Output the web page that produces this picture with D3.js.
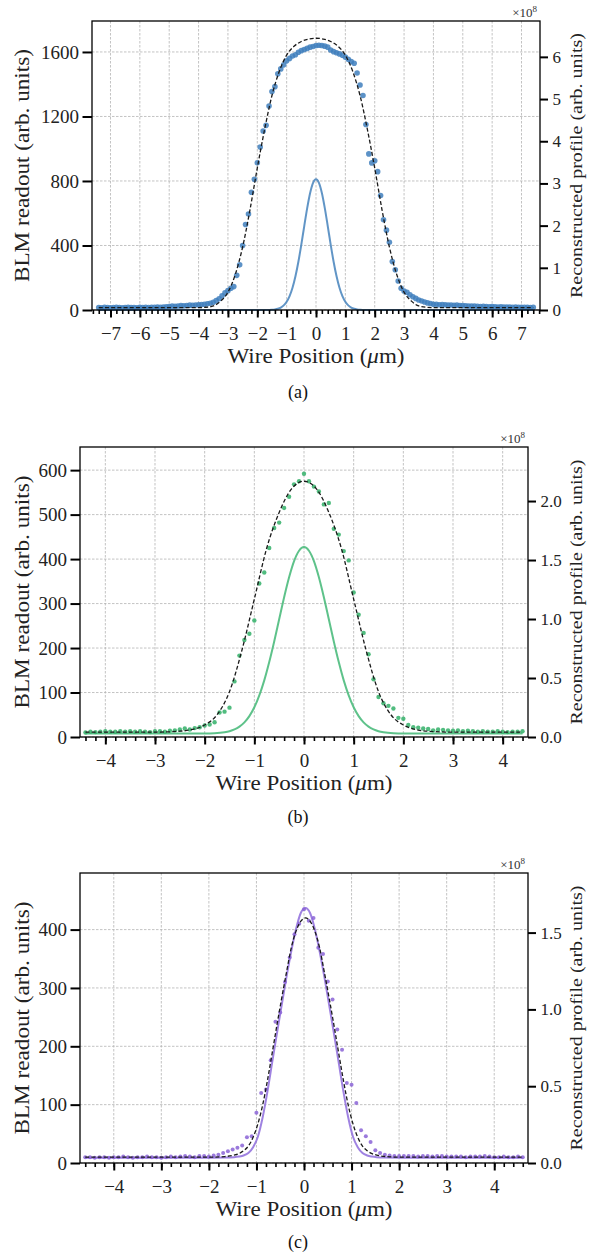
<!DOCTYPE html>
<html>
<head>
<meta charset="utf-8">
<script src="https://cdn.jsdelivr.net/npm/d3@7"></script>
<style>
  body { margin: 0; background: #fff; }
  svg { display: block; font-family: "Liberation Serif", "DejaVu Serif", serif; }
  .grid { stroke: #b4b4b4; stroke-width: 0.8; stroke-dasharray: 2.5 1.5; }
</style>
</head>
<body>
<svg id="fig" width="596" height="1256"></svg>
<script>
// ---- panel (a) ----
const dotsAStart = -7.4;
const dotsA = [
  15,14,16,15,14,15,16,15,14,15,16,15,15,14,16,15,16,15,17,16,18,17,19,20,22,
  24,23,25,27,26,28,30,29,31,33,
  34,36,38,42,48,58,70,88,106,120,
  135,145,215,280,400,530,595,730,810,913,
  1010,1110,1145,1265,1355,1385,1465,1495,1520,1545,
  1560,1575,1583,1598,1608,1615,1622,1630,1634,1640,
  1642,1640,1636,1630,1612,1602,1595,1588,1580,1568,
  1555,1540,1530,1470,1395,1330,1150,968,912,925,
  858,710,560,495,420,300,250,180,135,118,
  110,95,82,72,62,56,50,44,40,36,
  35,33,34,32,30,31,29,30,28,27,
  26,25,24,25,23,22,23,21,20,21,
  20,19,20,18,19,18,17,18,17,16,
  16,17,15,16
];
const fitAX = [-7.4, -4.0, -3.75, -3.5, -3.25, -3.0, -2.75, -2.5, -2.25, -2.0, -1.75, -1.5, -1.25, -1.0, -0.75, -0.5, -0.25, 0,
  0.25, 0.5, 0.75, 1.0, 1.25, 1.5, 1.75, 2.0, 2.25, 2.5, 2.75, 3.0, 3.25, 3.5, 3.75, 4.0, 7.4];
const fitAY = [15, 15, 17, 25, 55, 110, 220, 390, 620, 880, 1120, 1330, 1480, 1580, 1635, 1665, 1680, 1685,
  1680, 1665, 1635, 1580, 1480, 1330, 1120, 880, 620, 390, 220, 110, 55, 25, 17, 15, 15];
const profAX = [-7.4, -1.6, -1.5, -1.4, -1.3, -1.2, -1.1, -1.0, -0.9, -0.8, -0.7, -0.6, -0.5, -0.4, -0.3, -0.2, -0.1, 0,
  0.1, 0.2, 0.3, 0.4, 0.5, 0.6, 0.7, 0.8, 0.9, 1.0, 1.1, 1.2, 1.3, 1.4, 1.5, 1.6, 7.4];
const profAY = [0, 0.002, 0.006, 0.014, 0.029, 0.057, 0.109, 0.194, 0.329, 0.527, 0.798, 1.144, 1.551, 1.990, 2.416, 2.775, 3.015, 3.100,
  3.015, 2.775, 2.416, 1.990, 1.551, 1.144, 0.798, 0.527, 0.329, 0.194, 0.109, 0.057, 0.029, 0.014, 0.006, 0.002, 0];
const xTicksA = [-7, -6, -5, -4, -3, -2, -1, 0, 1, 2, 3, 4, 5, 6, 7];
const yLTicksA = [0, 400, 800, 1200, 1600];
const yRTicksA = [0, 1, 2, 3, 4, 5, 6];

// ---- panel (b) ----
const dotsBStart = -4.4;
const dotsB = [
  10,12,11,12,13,12,12,13,12,13,12,13,12,11,13,
  13,12,14,15,17,
  19,17,20,22,26,
  28,33,55,57,66,125,183,218,232,262,
  345,370,425,470,482,515,540,568,575,592,
  575,563,552,523,526,468,455,418,397,325,
  275,234,186,130,90,76,70,64,43,41,
  27,22,21,19,18,15,17,16,15,14,
  15,13,14,13,12,13,12,12,13,12,11,12,12,13
];
const fitBX = [-4.4, -3.0, -2.5, -2.25, -2.0, -1.75, -1.5, -1.25, -1.0, -0.75, -0.5, -0.25, 0,
  0.25, 0.5, 0.75, 1.0, 1.25, 1.5, 1.75, 2.0, 2.25, 2.5, 3.0, 4.4];
const fitBY = [11, 11, 13, 17, 27, 50, 102, 195, 310, 425, 505, 558, 575,
  558, 505, 425, 310, 195, 102, 50, 27, 17, 13, 11, 11];
const profBX = [-4.4, -2.0, -1.8, -1.6, -1.5, -1.4, -1.3, -1.2, -1.1, -1.0, -0.9, -0.8, -0.7, -0.6, -0.5, -0.4, -0.3, -0.2, -0.1, 0,
  0.1, 0.2, 0.3, 0.4, 0.5, 0.6, 0.7, 0.8, 0.9, 1.0, 1.1, 1.2, 1.3, 1.4, 1.5, 1.6, 1.8, 2.0, 4.4];
const profBY = [0.030, 0.030, 0.032, 0.040, 0.049, 0.064, 0.088, 0.124, 0.177, 0.252, 0.353, 0.480, 0.635, 0.810, 0.998, 1.185, 1.354, 1.491, 1.579, 1.610,
  1.579, 1.491, 1.354, 1.185, 0.998, 0.810, 0.635, 0.480, 0.353, 0.252, 0.177, 0.124, 0.088, 0.064, 0.049, 0.040, 0.032, 0.030, 0.030];
const xTicksB = [-4, -3, -2, -1, 0, 1, 2, 3, 4];
const yLTicksB = [0, 100, 200, 300, 400, 500, 600];
const yRTicksB = [0, 0.5, 1.0, 1.5, 2.0];

// ---- panel (c) ----
const dotsCStart = -4.6;
const dotsC = [
  10,10,9,10,10,9,10,10,11,10,9,10,10,11,10,10,9,10,11,10,11,12,11,10,12,12,
  11,13,14,17,20,23,26,30,44,46,
  86,120,126,176,242,258,310,352,392,410,
  435,415,420,369,358,311,280,229,194,137,
  134,103,56,46,36,22,17,14,13,12,12,
  12,12,12,11,12,12,11,12,12,11,11,11,11,10,11,11,11,12,11,10,10,11,10,10,11,10
];
const fitCX = [-4.6, -1.97, -1.67, -1.47, -1.37, -1.27, -1.17, -1.07, -0.97, -0.87, -0.77, -0.67, -0.57, -0.47, -0.37, -0.27, -0.17, -0.07, 0.03,
  0.13, 0.23, 0.33, 0.43, 0.53, 0.63, 0.73, 0.83, 0.93, 1.03, 1.13, 1.23, 1.33, 1.43, 1.53, 1.73, 2.03, 4.6];
const fitCY = [10, 10, 11, 13.5, 16, 21, 29, 44, 67, 99, 141, 188, 236, 282, 326, 368, 397, 414, 420,
  414, 397, 368, 326, 282, 236, 188, 141, 99, 67, 44, 29, 21, 16, 13.5, 11, 10, 10];
const profCX = fitCX;
const profCY = [0.034, 0.034, 0.035, 0.038, 0.042, 0.049, 0.065, 0.103, 0.171, 0.296, 0.463, 0.653, 0.843, 1.026, 1.208, 1.375, 1.520, 1.626, 1.660,
  1.626, 1.520, 1.375, 1.208, 1.026, 0.843, 0.653, 0.463, 0.296, 0.171, 0.103, 0.065, 0.049, 0.042, 0.038, 0.035, 0.034, 0.034];
const xTicksC = [-4, -3, -2, -1, 0, 1, 2, 3, 4];
const yLTicksC = [0, 100, 200, 300, 400];
const yRTicksC = [0, 0.5, 1.0, 1.5];

const captions = ["(a)", "(b)", "(c)"];

const serif = '"Liberation Serif", "DejaVu Serif", serif';
const svg = d3.select("#fig");

const panels = [
  { left: 92, right: 540, top: 21, bottom: 310, xDomain: [-7.63, 7.63], yL: [0, 1792], yR: [0, 6.85],
    dots: dotsA, dotStart: dotsAStart, fitX: fitAX, fitY: fitAY, profX: profAX, profY: profAY,
    xTicks: xTicksA, yLTicks: yLTicksA, yRTicks: yRTicksA, yRFormat: d3.format("d"),
    dotColor: "#3f7fbd", lineColor: "#5089c0", r: 2.8, capY: 398, caption: captions[0] },
  { left: 80, right: 528, top: 447, bottom: 737, xDomain: [-4.51, 4.51], yL: [0, 652], yR: [0, 2.458],
    dots: dotsB, dotStart: dotsBStart, fitX: fitBX, fitY: fitBY, profX: profBX, profY: profBY,
    xTicks: xTicksB, yLTicks: yLTicksB, yRTicks: yRTicksB, yRFormat: d3.format(".1f"),
    dotColor: "#32b068", lineColor: "#4dbb7d", r: 2.2, capY: 823, caption: captions[1] },
  { left: 80, right: 528, top: 873, bottom: 1163, xDomain: [-4.71, 4.71], yL: [0, 497], yR: [0, 1.888],
    dots: dotsC, dotStart: dotsCStart, fitX: fitCX, fitY: fitCY, profX: profCX, profY: profCY,
    xTicks: xTicksC, yLTicks: yLTicksC, yRTicks: yRTicksC, yRFormat: d3.format(".1f"),
    dotColor: "#8a63d6", lineColor: "#9574de", r: 2.0, capY: 1248, caption: captions[2] }
];

function styleAxis(sel, size, width) {
  sel.attr("font-family", serif).attr("font-size", size);
  sel.select(".domain").remove();
  sel.selectAll(".tick line").attr("stroke", "#000").attr("stroke-width", width);
  sel.selectAll(".tick text").attr("fill", "#222");
}

function drawPanel(p) {
  const g = svg.append("g");
  const x = d3.scaleLinear().domain(p.xDomain).range([p.left, p.right]);
  const yL = d3.scaleLinear().domain(p.yL).range([p.bottom, p.top]);
  const yR = d3.scaleLinear().domain(p.yR).range([p.bottom, p.top]);

  // grid
  g.append("g").selectAll("line").data(p.xTicks).join("line")
    .attr("class", "grid")
    .attr("x1", d => x(d)).attr("x2", d => x(d))
    .attr("y1", p.top).attr("y2", p.bottom);
  g.append("g").selectAll("line").data(p.yLTicks).join("line")
    .attr("class", "grid")
    .attr("x1", p.left).attr("x2", p.right)
    .attr("y1", d => yL(d)).attr("y2", d => yL(d));

  // reconstructed profile (right axis)
  const profLine = d3.line().x(d => x(d[0])).y(d => yR(d[1])).curve(d3.curveMonotoneX);
  g.append("path")
    .datum(d3.zip(p.profX, p.profY))
    .attr("d", profLine)
    .attr("fill", "none")
    .attr("stroke", p.lineColor)
    .attr("stroke-width", 2)
    .attr("stroke-opacity", 0.9);

  // BLM readout dots
  g.append("g").selectAll("circle").data(p.dots).join("circle")
    .attr("cx", (d, i) => x(p.dotStart + i * 0.1))
    .attr("cy", d => yL(d))
    .attr("r", p.r)
    .attr("fill", p.dotColor)
    .attr("fill-opacity", 0.85);

  // fit (dashed)
  const fitLine = d3.line().x(d => x(d[0])).y(d => yL(d[1])).curve(d3.curveMonotoneX);
  g.append("path")
    .datum(d3.zip(p.fitX, p.fitY))
    .attr("d", fitLine)
    .attr("fill", "none")
    .attr("stroke", "#1a1a1a")
    .attr("stroke-width", 1.3)
    .attr("stroke-dasharray", "4 2.2");

  // frame
  g.append("rect")
    .attr("x", p.left).attr("y", p.top)
    .attr("width", p.right - p.left).attr("height", p.bottom - p.top)
    .attr("fill", "none").attr("stroke", "#000").attr("stroke-width", 1.3);

  // x axis: minor then major
  const minor = d3.range(Math.ceil(p.xDomain[0] / 0.2), Math.floor(p.xDomain[1] / 0.2) + 1).map(i => i * 0.2);
  g.append("g")
    .attr("transform", `translate(0,${p.bottom})`)
    .call(d3.axisBottom(x).tickValues(minor).tickSize(4).tickFormat(""))
    .call(s => styleAxis(s, 19, 1.6));
  g.append("g")
    .attr("transform", `translate(0,${p.bottom})`)
    .call(d3.axisBottom(x).tickValues(p.xTicks).tickSize(7.5).tickPadding(9).tickFormat(d3.format("d")))
    .call(s => styleAxis(s, 19, 2));

  // left axis
  g.append("g")
    .attr("transform", `translate(${p.left},0)`)
    .call(d3.axisLeft(yL).tickValues(p.yLTicks).tickSize(9.5).tickPadding(3.5).tickFormat(d3.format("d")))
    .call(s => styleAxis(s, 19, 2));

  // right axis
  g.append("g")
    .attr("transform", `translate(${p.right},0)`)
    .call(d3.axisRight(yR).tickValues(p.yRTicks).tickSize(8).tickPadding(4.5).tickFormat(p.yRFormat))
    .call(s => styleAxis(s, 17, 2));

  // multiplier
  const mult = g.append("text")
    .attr("x", p.right - 3).attr("y", p.top - 4)
    .attr("text-anchor", "end")
    .attr("font-size", 13).attr("fill", "#333");
  mult.append("tspan").text("×10");
  mult.append("tspan").attr("font-size", 9).attr("dy", -5).text("8");

  // axis labels
  const cx = (p.left + p.right) / 2;
  const cy = (p.top + p.bottom) / 2;
  const xl = g.append("text")
    .attr("x", cx).attr("y", p.bottom + 52.5)
    .attr("text-anchor", "middle")
    .attr("font-size", 20).attr("fill", "#222")
    .attr("textLength", 177).attr("lengthAdjust", "spacingAndGlyphs");
  xl.append("tspan").text("Wire Position (");
  xl.append("tspan").attr("font-style", "italic").text("μ");
  xl.append("tspan").text("m)");

  g.append("text")
    .attr("transform", `translate(29,${cy}) rotate(-90)`)
    .attr("text-anchor", "middle")
    .attr("font-size", 20).attr("fill", "#222")
    .attr("textLength", 233).attr("lengthAdjust", "spacingAndGlyphs")
    .text("BLM readout (arb. units)");

  g.append("text")
    .attr("transform", `translate(582,${cy}) rotate(-90)`)
    .attr("text-anchor", "middle")
    .attr("font-size", 17).attr("fill", "#222")
    .attr("textLength", 265).attr("lengthAdjust", "spacingAndGlyphs")
    .text("Reconstructed profile (arb. units)");

  // caption
  g.append("text")
    .attr("x", 298).attr("y", p.capY)
    .attr("text-anchor", "middle")
    .attr("font-size", 18).attr("fill", "#111")
    .text(p.caption);
}

panels.forEach(drawPanel);
</script>
</body>
</html>
